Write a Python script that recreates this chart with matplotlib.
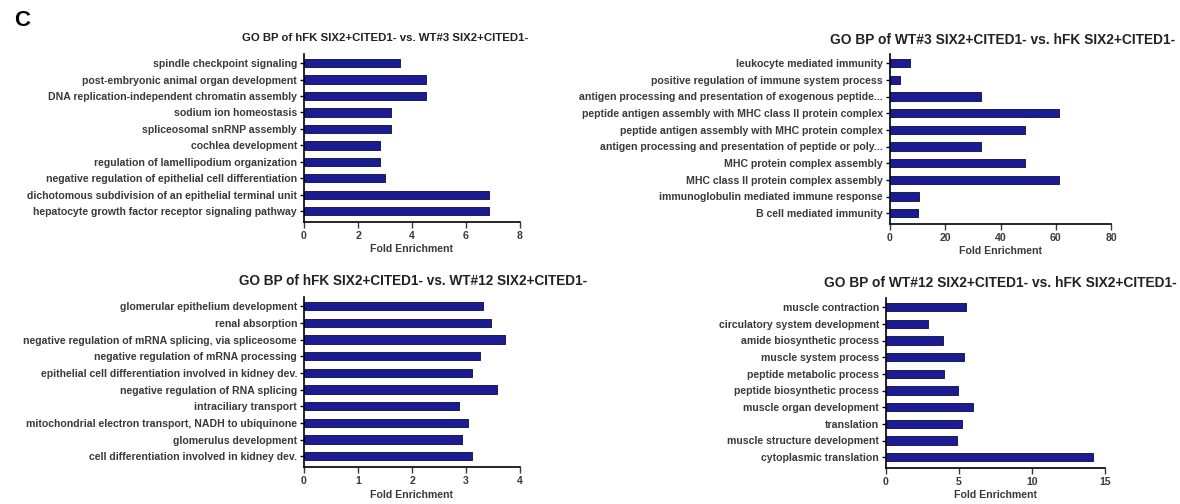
import matplotlib
matplotlib.use("Agg")
import matplotlib.pyplot as plt

plt.rcParams['font.family'] = ['Liberation Sans', 'DejaVu Sans']

# panel 1: hFK vs WT#3
terms_1 = ['spindle checkpoint signaling',
           'post-embryonic animal organ development',
           'DNA replication-independent chromatin assembly',
           'sodium ion homeostasis',
           'spliceosomal snRNP assembly',
           'cochlea development',
           'regulation of lamellipodium organization',
           'negative regulation of epithelial cell differentiation',
           'dichotomous subdivision of an epithelial terminal unit',
           'hepatocyte growth factor receptor signaling pathway']
fold_1 = [3.56, 4.51, 4.51, 3.24, 3.24, 2.82, 2.82, 2.99, 6.84, 6.84]

# panel 2: WT#3 vs hFK
terms_2 = ['leukocyte mediated immunity',
           'positive regulation of immune system process',
           'antigen processing and presentation of exogenous peptide...',
           'peptide antigen assembly with MHC class II protein complex',
           'peptide antigen assembly with MHC protein complex',
           'antigen processing and presentation of peptide or poly...',
           'MHC protein complex assembly',
           'MHC class II protein complex assembly',
           'immunoglobulin mediated immune response',
           'B cell mediated immunity']
fold_2 = [7.4, 3.8, 33.0, 61.3, 49.0, 33.0, 49.0, 61.3, 10.5, 10.2]

# panel 3: hFK vs WT#12
terms_3 = ['glomerular epithelium development',
           'renal absorption',
           'negative regulation of mRNA splicing, via spliceosome',
           'negative regulation of mRNA processing',
           'epithelial cell differentiation involved in kidney dev.',
           'negative regulation of RNA splicing',
           'intraciliary transport',
           'mitochondrial electron transport, NADH to ubiquinone',
           'glomerulus development',
           'cell differentiation involved in kidney dev.']
fold_3 = [3.32, 3.46, 3.72, 3.25, 3.11, 3.57, 2.87, 3.03, 2.92, 3.11]

# panel 4: WT#12 vs hFK
terms_4 = ['muscle contraction',
           'circulatory system development',
           'amide biosynthetic process',
           'muscle system process',
           'peptide metabolic process',
           'peptide biosynthetic process',
           'muscle organ development',
           'translation',
           'muscle structure development',
           'cytoplasmic translation']
fold_4 = [5.5, 2.9, 3.9, 5.35, 4.0, 4.9, 5.95, 5.2, 4.85, 14.2]

titles = ['GO BP of hFK SIX2+CITED1- vs. WT#3 SIX2+CITED1-',
          'GO BP of WT#3 SIX2+CITED1- vs. hFK SIX2+CITED1-',
          'GO BP of hFK SIX2+CITED1- vs. WT#12 SIX2+CITED1-',
          'GO BP of WT#12 SIX2+CITED1- vs. hFK SIX2+CITED1-']
xmax = [8, 80, 4, 15]
xstep = [2, 20, 1, 5]

W, H = 1180, 504
fig = plt.figure(figsize=(W / 100, H / 100), dpi=100)

# axes boxes in pixels: left, right, top, bottom
boxes = [(304, 520, 54, 222), (890, 1111, 54, 224),
         (304, 520, 297, 467), (886, 1105, 298, 468)]
title_pos = [(385, 38, 8.2), (1003, 40, 9.9), (413, 281, 9.8), (1000, 283, 9.9)]
bar_color = '#1b1b94'
fs = 7.6

panels = [(terms_1, fold_1), (terms_2, fold_2), (terms_3, fold_3), (terms_4, fold_4)]
for i, (terms, vals) in enumerate(panels):
    l, r, t, b = boxes[i]
    ax = fig.add_axes([l / W, 1 - b / H, (r - l) / W, (b - t) / H])
    y = list(range(len(terms)))[::-1]
    ax.barh(y, vals, height=0.5, color=bar_color, edgecolor='#0a0a40', linewidth=0.6)
    ax.set_yticks(y)
    ax.set_yticklabels(terms, fontsize=fs, fontweight='bold', color='#3a3a3a')
    ax.set_xlim(0, xmax[i])
    ax.set_ylim(-0.65, len(terms) - 0.45)
    ax.set_xticks(range(0, xmax[i] + 1, xstep[i]))
    ax.tick_params(axis='x', labelsize=fs, length=4, width=1, colors='#3a3a3a', pad=2.5)
    ax.tick_params(axis='y', length=3, width=1, pad=2)
    for lab in ax.get_xticklabels():
        lab.set_fontweight('bold')
    ax.set_xlabel('Fold Enrichment', fontsize=fs, fontweight='bold', color='#3a3a3a', labelpad=2.5)
    ax.spines['top'].set_visible(False)
    ax.spines['right'].set_visible(False)
    ax.spines['left'].set_linewidth(1.2)
    ax.spines['bottom'].set_linewidth(1.2)
    tx, ty, ts = title_pos[i]
    fig.text(tx / W, 1 - ty / H, titles[i], ha='center', va='center',
             fontsize=ts, fontweight='bold', color='#222222')

fig.text(22 / W, 1 - 20 / H, 'C', ha='center', va='center', fontsize=16, fontweight='bold')

fig.savefig('out.png', dpi=100, facecolor='white')
